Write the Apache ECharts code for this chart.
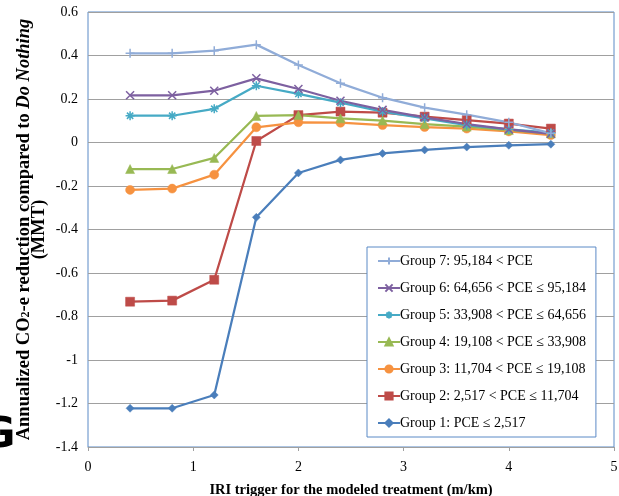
<!DOCTYPE html>
<html>
<head>
<meta charset="utf-8">
<script src="https://cdn.jsdelivr.net/npm/echarts@6/dist/echarts.min.js"></script>
<style>
  html, body { margin: 0; padding: 0; background: #fff; }
  #main { width: 619px; height: 496px; }
</style>
</head>
<body>
<div id="main"></div>
<script>
// IRI trigger values (m/km)
var iri = [0.4, 0.8, 1.2, 1.6, 2.0, 2.4, 2.8, 3.2, 3.6, 4.0, 4.4];

// annualized CO2-e reduction per group (MMT)
var group1 = [-1.222, -1.222, -1.161, -0.344, -0.140, -0.080, -0.050, -0.034, -0.021, -0.013, -0.008];
var group2 = [-0.732, -0.727, -0.631, 0.007, 0.126, 0.142, 0.137, 0.119, 0.103, 0.087, 0.064];
var group3 = [-0.218, -0.212, -0.148, 0.070, 0.093, 0.091, 0.080, 0.071, 0.064, 0.051, 0.034];
var group4 = [-0.122, -0.122, -0.071, 0.122, 0.126, 0.111, 0.101, 0.084, 0.073, 0.057, 0.042];
var group5 = [0.123, 0.123, 0.155, 0.261, 0.224, 0.183, 0.142, 0.111, 0.080, 0.060, 0.045];
var group6 = [0.217, 0.217, 0.238, 0.295, 0.246, 0.192, 0.150, 0.116, 0.085, 0.060, 0.040];
var group7 = [0.410, 0.410, 0.422, 0.450, 0.356, 0.272, 0.206, 0.160, 0.128, 0.093, 0.042];

var groupNames = [
    'Group 1: PCE \u2264 2,517',
    'Group 2: 2,517 < PCE \u2264 11,704',
    'Group 3: 11,704 < PCE \u2264 19,108',
    'Group 4: 19,108 < PCE \u2264 33,908',
    'Group 5: 33,908 < PCE \u2264 64,656',
    'Group 6: 64,656 < PCE \u2264 95,184',
    'Group 7: 95,184 < PCE'
];
var groupValues = [group1, group2, group3, group4, group5, group6, group7];
var colors = ['#4a7ebb', '#be4b48', '#f69240', '#98b954', '#46aac5', '#7d60a0', '#90acd8'];

var plusPath = 'path://M5,0L5,10M0,5L10,5';
var crossPath = 'path://M0,0L10,10M10,0L0,10';
var starPath = 'path://M5,0L5,10M0,5L10,5M1.5,1.5L8.5,8.5M8.5,1.5L1.5,8.5';
var symbols = ['diamond', 'rect', 'circle', 'triangle', starPath, crossPath, plusPath];
var symbolSizes = [8, 9, 9, 9, 9, 8, 9];

var fontFamily = '"Liberation Serif", "Times New Roman", serif';

var dom = document.getElementById('main');
var myChart = echarts.init(dom);

var series = [];
for (var g = 0; g < groupValues.length; g++) {
    var pts = [];
    for (var i = 0; i < iri.length; i++) {
        pts.push([iri[i], groupValues[g][i]]);
    }
    var stroked = g >= 4;
    series.push({
        name: groupNames[g],
        type: 'line',
        xAxisIndex: 0,
        data: pts,
        symbol: symbols[g],
        symbolSize: symbolSizes[g],
        showAllSymbol: true,
        lineStyle: { color: colors[g], width: 2.25 },
        itemStyle: {
            color: colors[g],
            borderColor: colors[g],
            borderWidth: stroked ? 1.5 : 0.5
        },
        emphasis: { disabled: true },
        animation: false
    });
}

var option = {
    backgroundColor: '#fff',
    textStyle: { fontFamily: fontFamily },
    grid: {
        left: 88,
        right: 5,
        top: 12,
        bottom: 49,
        show: true,
        borderColor: '#5b8ac6',
        borderWidth: 1,
        containLabel: false,
        outerBoundsMode: 'none'
    },
    legend: {
        orient: 'vertical',
        left: 367,
        top: 247,
        width: 236,
        padding: [7, 10, 7, 10],
        itemGap: 13,
        itemWidth: 22,
        itemHeight: 9,
        backgroundColor: '#fff',
        borderColor: '#5b8ac6',
        borderWidth: 1,
        textStyle: { fontFamily: fontFamily, fontSize: 14, color: '#000', padding: [0, 0, 0, -5] },
        data: groupNames.slice().reverse()
    },
    xAxis: [{
        type: 'value',
        min: 0,
        max: 5,
        interval: 1,
        position: 'bottom',
        axisLine: { show: false },
        axisTick: { show: false },
        splitLine: { show: false },
        axisLabel: { fontFamily: fontFamily, fontSize: 14, color: '#000', margin: 13 },
        name: 'IRI trigger for the modeled treatment (m/km)',
        nameLocation: 'middle',
        nameGap: 36,
        nameTextStyle: { fontFamily: fontFamily, fontSize: 14.5, fontWeight: 'bold', color: '#000' }
    }, {
        type: 'value',
        min: 0,
        max: 5,
        interval: 1,
        position: 'bottom',
        axisLine: { show: true, onZero: true, lineStyle: { color: '#a0a0a0', width: 1 } },
        axisTick: { show: true, length: 4, lineStyle: { color: '#a0a0a0' } },
        axisLabel: { show: false },
        splitLine: { show: false }
    }],
    yAxis: {
        type: 'value',
        min: -1.4,
        max: 0.6,
        interval: 0.2,
        axisLine: { show: false },
        axisTick: { show: false },
        splitLine: { show: true, lineStyle: { color: '#a0a0a0', width: 1 } },
        axisLabel: {
            fontFamily: fontFamily, fontSize: 14, color: '#000', margin: 10,
            formatter: function (v) { return String(Math.round(v * 10) / 10); }
        },
        name: '{b|Annualized CO}{s|2}{b|-e reduction compared to }{bi|Do Nothing}\n{b|(MMT)}',
        nameLocation: 'middle',
        nameRotate: 90,
        nameGap: 41,
        nameMoveOverlap: false,
        nameTextStyle: {
            align: 'center',
            lineHeight: 15,
            rich: {
                b: { fontFamily: fontFamily, fontSize: 18.5, fontWeight: 'bold', color: '#000', lineHeight: 15 },
                bi: { fontFamily: fontFamily, fontSize: 18.5, fontWeight: 'bold', fontStyle: 'italic', color: '#000', lineHeight: 15 },
                s: { fontFamily: fontFamily, fontSize: 12, fontWeight: 'bold', color: '#000', lineHeight: 15, verticalAlign: 'bottom', padding: [6, 0, 0, 0] }
            }
        }
    },
    graphic: [{
        type: 'text',
        left: -19,
        top: 415,
        silent: true,
        style: { text: 'G', fontFamily: '"DejaVu Sans", sans-serif', fontSize: 42, fontWeight: 'bold', fill: '#000' }
    }],
    series: series
};

if (option && typeof option === 'object') {
    myChart.setOption(option, true);
}
</script>
</body>
</html>
